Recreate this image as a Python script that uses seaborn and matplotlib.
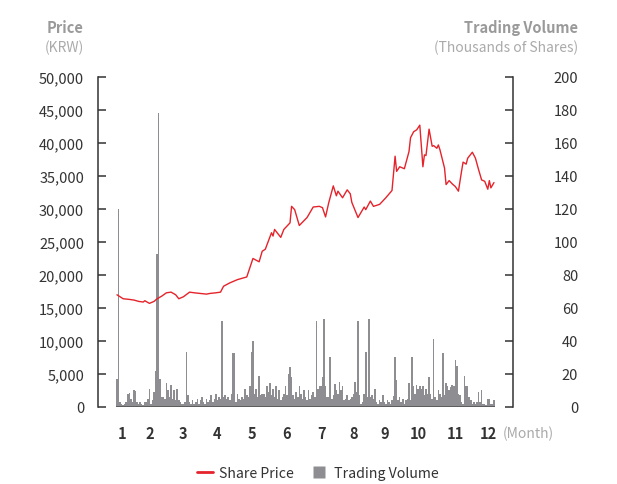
import matplotlib
matplotlib.use("Agg")
import matplotlib.pyplot as plt
import seaborn as sns
from matplotlib.lines import Line2D
from matplotlib.ticker import FuncFormatter

# share price (KRW), read at trading-day index
price_day = [0, 4, 8, 11, 14, 17, 18, 21, 24, 26, 29, 32, 35, 38, 40, 43, 47, 50, 54, 58,
             60, 64, 67, 69, 73, 78, 84, 88, 92, 94, 96, 100, 101, 102, 106, 108, 112, 113,
             115, 118, 123, 127, 131, 133, 135, 137, 140, 142, 143, 146, 149, 151, 152, 156,
             160, 161, 164, 166, 170, 174, 178, 180, 181, 183, 186, 189, 190, 192, 194, 196,
             198, 199, 200, 202, 204, 205, 207, 208, 209, 212, 213, 215, 217, 219, 221, 223,
             224, 226, 227, 230, 232, 234, 236, 238, 240, 241, 242, 244]
price = [17000, 16400, 16300, 16200, 16000, 15900, 16100, 15700, 16000, 16400, 16800, 17300,
         17400, 17000, 16400, 16700, 17400, 17300, 17200, 17100, 17200, 17300, 17400, 18300,
         18800, 19300, 19700, 22500, 22000, 23600, 23900, 26400, 25900, 26900, 25700, 26900,
         27900, 30400, 29900, 27500, 28700, 30300, 30400, 30200, 28800, 30900, 33500, 32000,
         32700, 31700, 32900, 32300, 31000, 28700, 30300, 29900, 31200, 30400, 30700, 31700,
         32800, 38000, 35700, 36400, 36100, 38700, 40800, 41700, 42000, 42700, 36400, 38200,
         38100, 42100, 39500, 39600, 39200, 39700, 39000, 36200, 33700, 34300, 33800, 33400,
         32700, 35700, 37100, 36800, 37700, 38600, 37700, 36000, 34400, 34200, 33000, 34300,
         33200, 34000]

# daily trading volume (thousands of shares)
volume = [17, 120, 3, 2, 1.5, 2, 3, 8, 8.5, 5, 3, 10, 9.5, 3, 2, 3, 2, 1.5, 3, 3,
          5, 11, 2, 4, 9, 22, 93, 178, 17, 6, 6, 5, 14.5, 10, 6, 13.3, 5, 10.5, 4, 11,
          4, 3, 2, 2, 3, 33.4, 7, 3, 2, 4, 2, 3, 5, 2, 4, 6, 3, 2, 5, 3,
          4, 7, 3, 5, 8, 4, 6, 5, 52, 6, 7, 5, 6, 4, 8, 33, 33, 3, 8, 5,
          4, 6, 5, 11, 7, 6, 13, 33.4, 39.7, 8, 11, 6, 19, 7, 8, 8, 6, 13, 9, 14.5,
          7, 11, 6, 13, 5, 10, 4, 6, 8, 13, 7, 20, 24, 18, 7, 5, 9, 6, 13, 8,
          5, 10, 6, 4, 10.5, 5, 7, 9, 6, 52, 11, 13, 13, 18, 53.6, 13, 6, 6, 30, 5,
          7, 14, 10, 8, 15, 10, 13, 4, 5, 7, 4, 5, 6, 8, 15, 9, 52, 7, 2, 3,
          8, 33.4, 6, 53.6, 6, 7, 5, 11, 3, 2, 4, 3, 7, 3, 2, 4, 3, 2, 4, 6.5,
          30, 16.5, 4, 6, 3, 5, 2, 4, 5, 14.5, 4, 30, 13, 8, 13.5, 11, 13, 11, 13, 7,
          11, 8, 18, 8, 5, 41, 6, 4, 10, 8, 6, 32.6, 7, 14.5, 13, 10, 12, 13.5, 13, 28.6,
          24.6, 8, 7, 3, 2, 18.5, 13, 13, 6, 4, 2, 3, 2, 3, 9, 3, 10, 2, 2, 1.5,
          5, 5, 2, 2, 4]
volume_day = list(range(len(volume)))

month_day = [3, 21.4, 42.9, 64.5, 87.2, 109.8, 132.5, 153, 173.5, 195, 218.8, 240.3]
month_labels = ["1", "2", "3", "4", "5", "6", "7", "8", "9", "10", "11", "12"]

red = "#e5232b"
bar_grey = "#8e8e92"
dark = "#333333"

sns.set_style("white")
plt.rcParams["font.family"] = ["Noto Sans CJK KR", "DejaVu Sans"]

fig = plt.figure(figsize=(6.17, 4.85), dpi=100)
ax = fig.add_axes([0.1588, 0.1588, 0.6726, 0.6804])
ax2 = ax.twinx()

sns.barplot(x=volume_day, y=volume, native_scale=True, color=bar_grey, saturation=1,
            width=1.0, linewidth=0, errorbar=None, ax=ax2)
ax2.hlines(0, volume_day[0] - 0.5, volume_day[-1] + 0.5, color="#555555", linewidth=1.2)

sns.lineplot(x=price_day, y=price, color=red, linewidth=1.0, ax=ax)

ax.set_zorder(ax2.get_zorder() + 1)
ax.patch.set_visible(False)

xlim = (-12.3, 256.3)
ax.set_xlim(*xlim)
ax2.set_xlim(*xlim)
ax.set_ylim(0, 50000)
ax2.set_ylim(0, 200)

ax.set_yticks(range(0, 50001, 5000))
ax.yaxis.set_major_formatter(FuncFormatter(lambda v, p: f"{v:,.0f}"))
ax2.set_yticks(range(0, 201, 20))

for s in ["top", "right", "bottom"]:
    ax.spines[s].set_visible(False)
for s in ["top", "left", "bottom"]:
    ax2.spines[s].set_visible(False)
ax.spines["left"].set_color(dark)
ax.spines["left"].set_linewidth(1.1)
ax2.spines["right"].set_color(dark)
ax2.spines["right"].set_linewidth(1.1)

ax.tick_params(axis="y", direction="in", length=6, width=1.1, color=dark,
               labelsize=10.5, labelcolor=dark, pad=10)
ax2.tick_params(axis="y", direction="in", length=6, width=1.1, color=dark,
                labelsize=10.5, labelcolor=dark, pad=47)
for lab in ax2.get_yticklabels():
    lab.set_horizontalalignment("right")

ax.set_xticks(month_day)
ax.set_xticklabels(month_labels)
ax.tick_params(axis="x", length=0, labelsize=10.5, labelcolor=dark, pad=13)
for lab in ax.get_xticklabels():
    lab.set_fontweight("bold")
ax2.tick_params(axis="x", length=0, labelbottom=False)
ax.set_xlabel("")
ax.set_ylabel("")
ax2.set_xlabel("")
ax2.set_ylabel("")

fig.text(503 / 617, 1 - 434 / 485, "(Month)", ha="left", va="center",
         fontsize=10, color="#aaaaaa")

fig.text(84 / 617, 1 - 28 / 485, "Price", ha="right", va="center",
         fontsize=10.5, fontweight="bold", color="#9a9a9a")
fig.text(84 / 617, 1 - 48 / 485, "(KRW)", ha="right", va="center",
         fontsize=10, color="#aaaaaa")
fig.text(578 / 617, 1 - 28 / 485, "Trading Volume", ha="right", va="center",
         fontsize=10.5, fontweight="bold", color="#9a9a9a")
fig.text(578 / 617, 1 - 48 / 485, "(Thousands of Shares)", ha="right", va="center",
         fontsize=10, color="#aaaaaa")

handles = [Line2D([0], [0], color=red, linewidth=2),
           Line2D([0], [0], linestyle="none", marker="s", markersize=9,
                  markerfacecolor=bar_grey, markeredgecolor="none")]
fig.legend(handles, ["Share Price", "Trading Volume"], loc="center",
           bbox_to_anchor=(0.515, 1 - 474 / 485), ncol=2, frameon=False,
           fontsize=10.2, handlelength=1.15, handletextpad=0.45,
           columnspacing=1.2, labelcolor=dark)

fig.savefig("out.png", dpi=100)
